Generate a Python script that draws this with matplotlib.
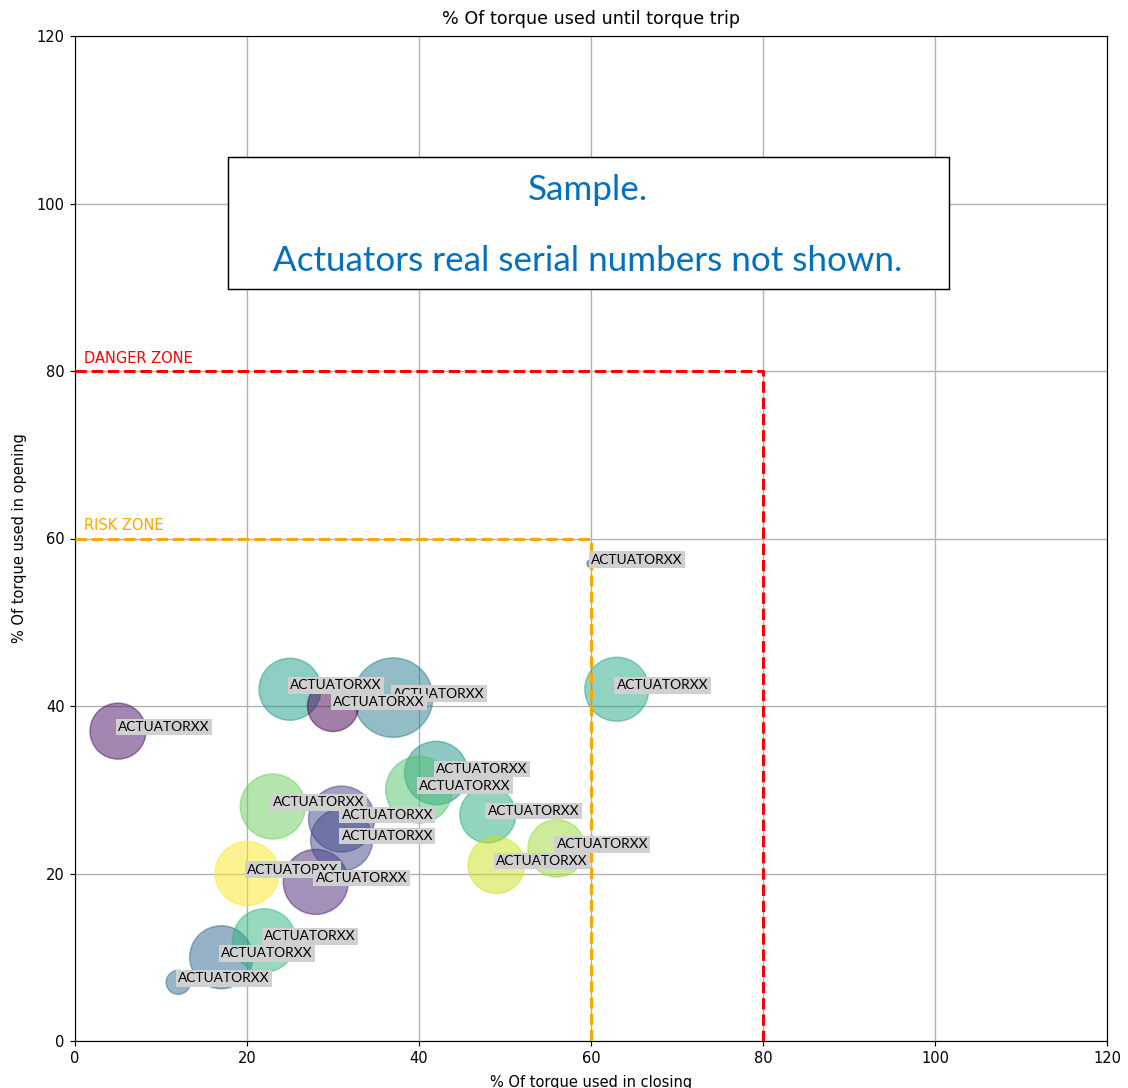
import matplotlib
matplotlib.use("Agg")
import matplotlib.pyplot as plt
from matplotlib.patches import Rectangle

# ---- data ----
closing = [5, 12, 17, 22, 20, 23, 28, 31, 31, 25, 37, 30, 42, 40, 48, 49, 56, 60, 63]
opening = [37, 7, 10, 12, 20, 28, 19, 26.5, 24, 42, 41, 40, 32, 30, 27, 21, 23, 57, 42]
bubble_sizes = [1475, 271, 1866, 1890, 1926, 1987, 1987, 2048, 1807, 1807, 2964, 1223,
                1890, 2086, 1475, 1506, 1549, 30, 1926]
color_values = [0.05, 0.35, 0.33, 0.65, 1.0, 0.77, 0.1, 0.2, 0.22, 0.55, 0.42, 0.0,
                0.5, 0.72, 0.62, 0.92, 0.85, 0.25, 0.6]
names = ["ACTUATORXX"] * 19
label_order = [0, 1, 2, 3, 4, 5, 6, 7, 8, 9, 10, 11, 12, 13, 14, 15, 16, 17, 18]

risk_level = 60
danger_level = 80
ticks = [0, 20, 40, 60, 80, 100, 120]

title = "% Of torque used until torque trip"
xlabel = "% Of torque used in closing"
ylabel = "% Of torque used in opening"
note = "Sample.\n\nActuators real serial numbers not shown."

DPI = 105
fig = plt.figure(figsize=(1128 / DPI, 1088 / DPI), dpi=DPI)
ax = fig.add_axes([75 / 1128, 47 / 1088, 1032 / 1128, 1005 / 1088])

ax.set_xlim(0, 120)
ax.set_ylim(0, 120)
ax.set_xticks(ticks)
ax.set_yticks(ticks)
ax.grid(True, color="#b0b0b0", linewidth=0.9, zorder=0)
ax.set_axisbelow(True)

ax.scatter(closing, opening, s=bubble_sizes, c=color_values, cmap="viridis",
           vmin=0, vmax=1, alpha=0.5, zorder=2)

# zones
ax.plot([0, danger_level, danger_level], [danger_level, danger_level, 0],
        color="red", linestyle="--", linewidth=2.1, zorder=3)
ax.plot([0, risk_level, risk_level], [risk_level, risk_level, 0],
        color="orange", linestyle="--", linewidth=2.1, zorder=3)
ax.text(1, danger_level + 1, "DANGER ZONE", color="red", fontsize=10, zorder=4)
ax.text(1, risk_level + 1, "RISK ZONE", color="orange", fontsize=10, zorder=4)

for i in label_order:
    ax.text(closing[i], opening[i], names[i], fontsize=9.4, family=["Lato", "DejaVu Sans"],
            ha="left", va="baseline", zorder=5,
            bbox=dict(facecolor="#d0d0d0", edgecolor="none", pad=1.6))

# note box
ax.add_patch(Rectangle((17.8, 89.8), 83.8, 15.8, facecolor="white",
                       edgecolor="black", linewidth=1.0, zorder=6))
ax.text(59.65, 97.4, note, ha="center", va="center", fontsize=24,
        family=["Lato", "DejaVu Sans"], color="#0070c0", linespacing=1.13, zorder=7)

ax.set_title(title, pad=8)
ax.set_xlabel(xlabel, labelpad=6)
ax.set_ylabel(ylabel, labelpad=7)

fig.savefig("out.png", dpi=DPI)
